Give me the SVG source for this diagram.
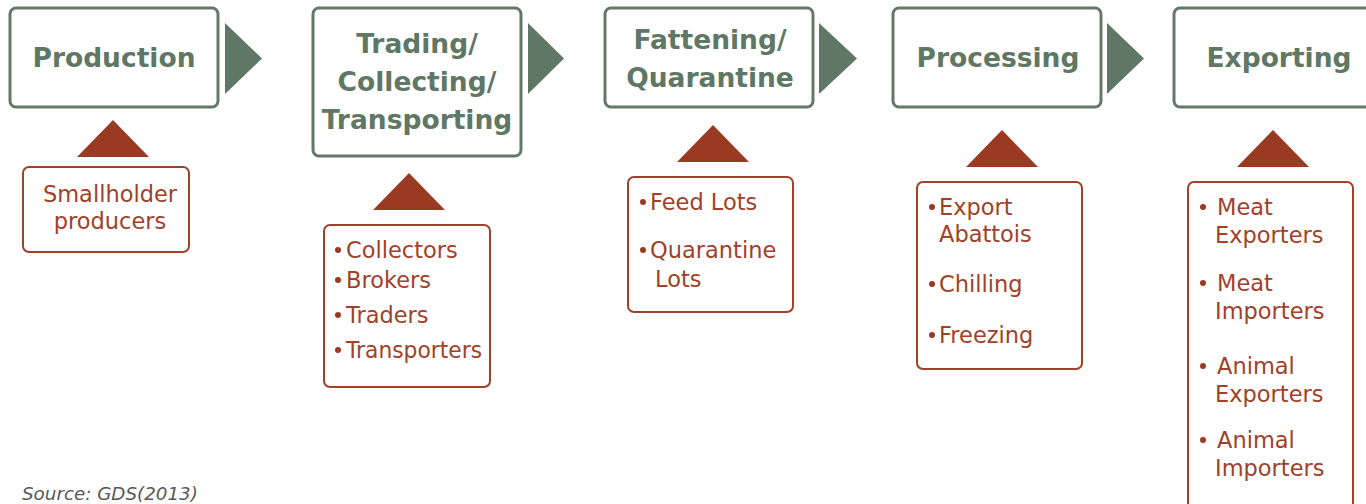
<svg xmlns="http://www.w3.org/2000/svg" width="1366" height="504" viewBox="0 0 1366 504">
<style>
.stage{fill:#fff;stroke:#62796a;stroke-width:3}
.stage-t{font-family:"DejaVu Sans",sans-serif;font-weight:bold;font-size:26.5px;fill:#5f7765;text-anchor:middle}
.sub{fill:#fff;stroke:#a0412a;stroke-width:2}
.sub-t{font-family:"DejaVu Sans",sans-serif;font-size:22.5px;fill:#a0412a}
.chev{fill:#5f7765}
.up{fill:#9b3a22}
.dot{fill:#9b3a22}
.src{font-family:"DejaVu Sans",sans-serif;font-style:italic;font-size:18.3px;fill:#595959}
</style>
<rect width="1366" height="504" fill="#fff"/>
<g id="connectors">
<polygon class="chev" points="225,23 262,58.5 225,94"/>
<polygon class="chev" points="528,23 564,58.5 528,94"/>
<polygon class="chev" points="819,23 857,58.5 819,94"/>
<polygon class="chev" points="1107,23 1144,58.5 1107,94"/>
<polygon class="up" points="113,120 149,157 77,157"/>
<polygon class="up" points="409,173 445,210 373,210"/>
<polygon class="up" points="713,125 749,162 677,162"/>
<polygon class="up" points="1002,130 1038,167 966,167"/>
<polygon class="up" points="1273,130 1309,167 1237,167"/>
</g>
<g id="production">
<rect class="stage" x="10" y="8" width="208" height="99" rx="6"/>
<text class="stage-t" x="114" y="67">Production</text>
</g>
<g id="trading">
<rect class="stage" x="313" y="8" width="208" height="148" rx="6"/>
<text class="stage-t" x="417" y="53">Trading/</text>
<text class="stage-t" x="417" y="91">Collecting/</text>
<text class="stage-t" x="417" y="129">Transporting</text>
</g>
<g id="fattening">
<rect class="stage" x="605" y="8" width="208" height="99" rx="6"/>
<text class="stage-t" x="710" y="49">Fattening/</text>
<text class="stage-t" x="710" y="87">Quarantine</text>
</g>
<g id="processing">
<rect class="stage" x="893" y="8" width="208" height="99" rx="6"/>
<text class="stage-t" x="998" y="67">Processing</text>
</g>
<g id="exporting">
<rect class="stage" x="1174" y="8" width="208" height="99" rx="6"/>
<text class="stage-t" x="1279" y="67">Exporting</text>
</g>
<g id="smallholders">
<rect class="sub" x="23" y="167" width="166" height="85" rx="6"/>
<text class="sub-t" x="110" y="202" text-anchor="middle">Smallholder</text>
<text class="sub-t" x="110" y="229" text-anchor="middle">producers</text>
</g>
<g id="traders">
<rect class="sub" x="324" y="225" width="166" height="162" rx="6"/>
<circle class="dot" cx="338" cy="250" r="3"/>
<text class="sub-t" x="346" y="258">Collectors</text>
<circle class="dot" cx="338" cy="280" r="3"/>
<text class="sub-t" x="346" y="288">Brokers</text>
<circle class="dot" cx="338" cy="315" r="3"/>
<text class="sub-t" x="346" y="323">Traders</text>
<circle class="dot" cx="338" cy="350" r="3"/>
<text class="sub-t" x="346" y="358" textLength="136" lengthAdjust="spacingAndGlyphs">Transporters</text>
</g>
<g id="lots">
<rect class="sub" x="628" y="177" width="165" height="135" rx="6"/>
<circle class="dot" cx="643" cy="202" r="3"/>
<text class="sub-t" x="650" y="210">Feed Lots</text>
<circle class="dot" cx="643" cy="250" r="3"/>
<text class="sub-t" x="650" y="258">Quarantine</text>
<text class="sub-t" x="655" y="287">Lots</text>
</g>
<g id="abattoirs">
<rect class="sub" x="917" y="182" width="165" height="187" rx="6"/>
<circle class="dot" cx="932" cy="207" r="3"/>
<text class="sub-t" x="939" y="215">Export</text>
<text class="sub-t" x="939" y="242">Abattois</text>
<circle class="dot" cx="932" cy="284" r="3"/>
<text class="sub-t" x="939" y="292">Chilling</text>
<circle class="dot" cx="932" cy="335" r="3"/>
<text class="sub-t" x="939" y="343">Freezing</text>
</g>
<g id="exporters">
<rect class="sub" x="1188" y="182" width="165" height="330" rx="6"/>
<circle class="dot" cx="1203" cy="207" r="3"/>
<text class="sub-t" x="1217" y="215">Meat</text>
<text class="sub-t" x="1215" y="243">Exporters</text>
<circle class="dot" cx="1203" cy="283" r="3"/>
<text class="sub-t" x="1217" y="291">Meat</text>
<text class="sub-t" x="1215" y="319">Importers</text>
<circle class="dot" cx="1203" cy="366" r="3"/>
<text class="sub-t" x="1217" y="374">Animal</text>
<text class="sub-t" x="1215" y="402">Exporters</text>
<circle class="dot" cx="1203" cy="440" r="3"/>
<text class="sub-t" x="1217" y="448">Animal</text>
<text class="sub-t" x="1215" y="476">Importers</text>
</g>
<text class="src" x="22" y="500">Source: GDS(2013)</text>
</svg>
